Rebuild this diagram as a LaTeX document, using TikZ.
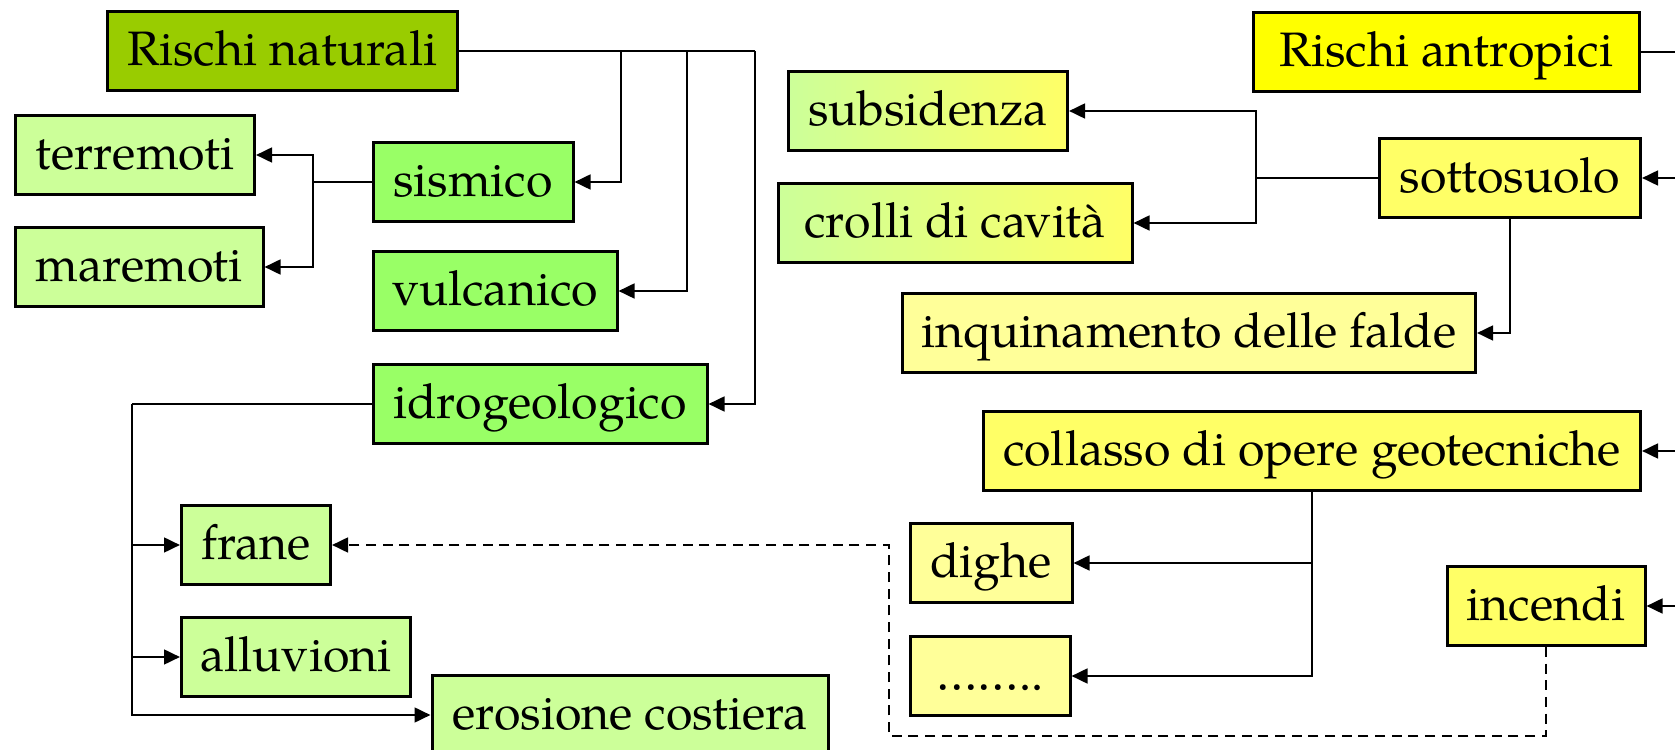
\documentclass[tikz,border=0pt]{standalone}
\usepackage{fontspec}
\setmainfont{TeX Gyre Pagella}
\usetikzlibrary{arrows.meta}
\definecolor{cNat}{HTML}{99CC00}
\definecolor{cMid}{HTML}{99FF66}
\definecolor{cLG}{HTML}{CCFF99}
\definecolor{cAnt}{HTML}{FFFF00}
\definecolor{cY}{HTML}{FFFF66}
\definecolor{cLY}{HTML}{FFFF99}
\begin{document}
\begin{tikzpicture}[x=0.3pt,y=-0.3pt,
  box/.style={draw=black, line width=0.9pt, inner sep=0pt, minimum height=23.7pt,
    text height=10.8pt, text depth=2.2pt, font=\fontsize{14.5pt}{17pt}\selectfont},
  conn/.style={line width=0.8pt, -{Triangle[length=4.8pt,width=4.4pt]}},
  link/.style={line width=0.8pt},
  dashlink/.style={conn, dash pattern=on 3pt off 2pt}]
\useasboundingbox (0,0) rectangle (1675,750);

% natural risks
\node[box, fill=cNat, minimum width=105pt] (rn) at (282,51) {Rischi naturali};
\node[box, fill=cLG, minimum width=71.7pt] (terr) at (135,155) {terremoti};
\node[box, fill=cLG, minimum width=74.4pt] (mare) at (139,267) {maremoti};
\node[box, fill=cMid, minimum width=60pt] (sis) at (473,182) {sismico};
\node[box, fill=cMid, minimum width=73.2pt] (vul) at (495,291) {vulcanico};
\node[box, fill=cMid, minimum width=100.2pt] (idro) at (540,404) {idrogeologico};
\node[box, fill=cLG, minimum width=44.7pt] (frane) at (256,545) {frane};
\node[box, fill=cLG, minimum width=68.7pt] (allu) at (296,657) {alluvioni};
\node[box, fill=cLG, minimum width=118.8pt] (eros) at (630,715) {erosione costiera};

% anthropic risks
\node[box, left color=cLG, right color=cY, minimum width=83.7pt] (subs) at (928,111) {subsidenza};
\node[box, left color=cLG, right color=cY, minimum width=106.2pt] (crol) at (955,223) {crolli di cavità};
\node[box, fill=cLY, minimum width=171.9pt] (inq) at (1189,333) {inquinamento delle falde};
\node[box, fill=cAnt, minimum width=115.8pt] (ra) at (1446,52) {Rischi antropici};
\node[box, fill=cY, minimum width=78.3pt] (sott) at (1510,178) {sottosuolo};
\node[box, fill=cY, minimum width=197.1pt] (coll) at (1312,451) {collasso di opere geotecniche};
\node[box, fill=cLY, minimum width=48.6pt] (dighe) at (991,563) {dighe};
\node[box, fill=cLY, minimum width=48pt] (dots) at (990,676) {……..};
\node[box, fill=cY, minimum width=59.4pt] (inc) at (1546,606) {incendi};

% connectors: natural
\coordinate (j1) at (621,51);
\coordinate (j2) at (687,51);
\coordinate (j3) at (755,51);
\draw[link] (rn.east) -- (j3);
\draw[conn] (j1) |- (sis.east);
\draw[conn] (j2) |- (vul.east);
\draw[conn] (j3) |- (idro.east);

\coordinate (s1) at (313,182);
\draw[link] (sis.west) -- (s1);
\draw[conn] (s1) |- (terr.east);
\draw[conn] (s1) |- (mare.east);

\coordinate (i1) at (132,404);
\draw[link] (idro.west) -- (i1);
\draw[conn] (i1) |- (frane.west);
\draw[conn] (i1) |- (allu.west);
\draw[conn] (i1) |- (eros.west);

% connectors: anthropic
\coordinate (o1) at (1256,178);
\draw[link] (sott.west) -- (o1);
\draw[conn] (o1) |- (subs.east);
\draw[conn] (o1) |- (crol.east);
\draw[conn] (sott.south) |- (inq.east);

\draw[conn] (coll.south) |- (dighe.east);
\draw[conn] (coll.south) |- (dots.east);

\coordinate (rt) at (1700,52);
\draw[link] (ra.east) -- (rt) -- (rt |- inc.east);
\draw[conn] (rt |- sott.east) -- (sott.east);
\draw[conn] (rt |- coll.east) -- (coll.east);
\draw[conn] (rt |- inc.east) -- (inc.east);

% dashed link
\coordinate (d1) at (1546,736);
\coordinate (d2) at (889,736);
\draw[dashlink] (inc.south) -- (inc.south |- d1) -- (d2) |- (frane.east);
\end{tikzpicture}
\end{document}
